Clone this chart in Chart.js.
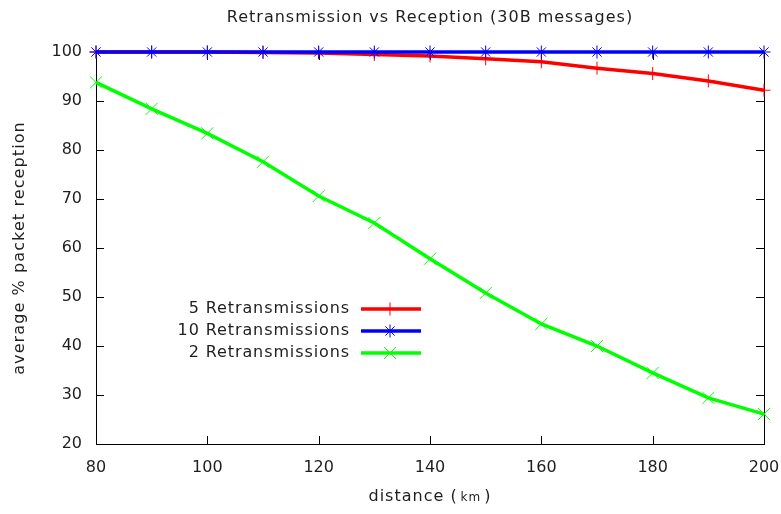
<!DOCTYPE html>
<html><head><meta charset="utf-8">
<script src="https://cdn.jsdelivr.net/npm/chart.js@4/dist/chart.umd.min.js"></script>
<style>html,body{margin:0;padding:0;background:#fff}#wrap{width:781px;height:514px}</style>
</head><body><div id="wrap"><canvas id="c" width="781" height="514"></canvas></div>
<script>
const distances = [80, 90, 100, 110, 120, 130, 140, 150, 160, 170, 180, 190, 200];
const retrans5 = [100, 100, 100, 99.9, 99.8, 99.5, 99.2, 98.6, 98.0, 96.7, 95.6, 94.1, 92.2];
const retrans10 = [100, 100, 100, 100, 100, 100, 100, 100, 100, 100, 100, 100, 100];
const retrans2 = [93.8, 88.4, 83.4, 77.6, 70.6, 65.1, 57.8, 50.8, 44.5, 40.0, 34.5, 29.4, 26.1];
const xTicks = [80, 100, 120, 140, 160, 180, 200];
const yTicks = [20, 30, 40, 50, 60, 70, 80, 90, 100];
const titleText = 'Retransmission vs Reception (30B messages)';
const yTitle = 'average % packet reception';
const xTitleMain = 'distance (';
const xTitleUnit = 'km';
const xTitleEnd = ')';

const FONT = '"DejaVu Sans", sans-serif';
const TXT = '#1e1e1e';

const pts = a => a.map((v, i) => ({x: distances[i], y: v}));

const frame = {
  id: 'frame',
  beforeDatasetsDraw(chart) {
    const ctx = chart.ctx, a = chart.chartArea;
    const xs = chart.scales.x, ys = chart.scales.y;
    ctx.save();
    ctx.strokeStyle = '#000'; ctx.lineWidth = 1;
    ctx.strokeRect(Math.round(a.left)+0.5, Math.round(a.top)+0.5, Math.round(a.right-a.left), Math.round(a.bottom-a.top));
    const tl = 8;
    ctx.beginPath();
    xTicks.forEach(v => {
      const px = Math.round(xs.getPixelForValue(v)) + 0.5;
      ctx.moveTo(px, a.bottom); ctx.lineTo(px, a.bottom - tl);
      ctx.moveTo(px, a.top); ctx.lineTo(px, a.top + tl);
    });
    yTicks.forEach(v => {
      const py = Math.round(ys.getPixelForValue(v)) + 0.5;
      ctx.moveTo(a.left, py); ctx.lineTo(a.left + tl, py);
      ctx.moveTo(a.right, py); ctx.lineTo(a.right - tl, py);
    });
    ctx.stroke();
    ctx.restore();
  },
  afterDatasetsDraw(chart) {
    const ctx = chart.ctx, a = chart.chartArea;
    ctx.save();
    ctx.fillStyle = TXT;
    ctx.textBaseline = 'middle';
    const cx = (a.left + a.right) / 2;
    // title
    ctx.font = '16px ' + FONT;
    ctx.letterSpacing = '1px';
    ctx.textAlign = 'center';
    ctx.fillText(titleText, cx, 18);
    // y title
    ctx.save();
    ctx.translate(20, (a.top + a.bottom) / 2);
    ctx.rotate(-Math.PI / 2);
    ctx.letterSpacing = '1.1px';
    ctx.fillText(yTitle, 0, 0);
    ctx.restore();
    // x title
    ctx.letterSpacing = '1px';
    ctx.font = '16px ' + FONT;
    const w1 = ctx.measureText(xTitleMain).width;
    const w3 = ctx.measureText(xTitleEnd).width;
    ctx.font = '12px ' + FONT;
    const w2 = ctx.measureText(xTitleUnit).width;
    const gap = 3;
    let x0 = cx - (w1 + w2 + w3 + 2 * gap) / 2;
    ctx.textAlign = 'left';
    ctx.font = '16px ' + FONT;
    ctx.fillText(xTitleMain, x0, 497);
    ctx.font = '12px ' + FONT;
    ctx.fillText(xTitleUnit, x0 + w1 + gap, 498);
    ctx.font = '16px ' + FONT;
    ctx.fillText(xTitleEnd, x0 + w1 + w2 + 2 * gap, 497);
    // legend
    const rows = [309, 331, 353];
    ctx.letterSpacing = '0.9px';
    ctx.font = '16px ' + FONT;
    chart.data.datasets.forEach((ds, i) => {
      const y = rows[i];
      ctx.fillStyle = TXT; ctx.textAlign = 'right';
      ctx.fillText(ds.label, 350, y);
      ctx.strokeStyle = ds.borderColor; ctx.lineWidth = ds.borderWidth;
      ctx.beginPath(); ctx.moveTo(361, y); ctx.lineTo(421, y); ctx.stroke();
      ctx.strokeStyle = ds.pointBorderColor; ctx.fillStyle = ds.pointBorderColor; ctx.lineWidth = 1;
      Chart.helpers.drawPoint(ctx, {pointStyle: ds.pointStyle, radius: ds.pointRadius, borderWidth: 1, rotation: 0}, 390, y);
    });
    ctx.letterSpacing = '0px';
    ctx.restore();
  }
};

new Chart(document.getElementById('c'), {
  type: 'line',
  data: {
    datasets: [
      {label: '5 Retransmissions', data: pts(retrans5), borderColor: '#ff0000', backgroundColor: '#ff0000', pointBorderColor: '#ff0000', pointStyle: 'cross', pointRadius: 6.5, pointBorderWidth: 1, borderWidth: 3.5, order: 3, clip: false, tension: 0},
      {label: '10 Retransmissions', data: pts(retrans10), borderColor: '#0000ff', backgroundColor: '#0000ff', pointBorderColor: '#0000ff', pointStyle: 'star', pointRadius: 6.5, pointBorderWidth: 1, borderWidth: 3.5, order: 2, clip: false, tension: 0},
      {label: '2 Retransmissions', data: pts(retrans2), borderColor: '#00ff00', backgroundColor: '#00ff00', pointBorderColor: '#00ff00', pointStyle: 'crossRot', pointRadius: 8.5, pointBorderWidth: 1, borderWidth: 3.5, order: 1, clip: false, tension: 0}
    ]
  },
  options: {
    responsive: false,
    animation: false,
    layout: {padding: {left: 0, top: 52, right: 17, bottom: 0}},
    plugins: {legend: {display: false}, title: {display: false}, tooltip: {enabled: false}},
    scales: {
      x: {
        type: 'linear', min: 80, max: 200,
        afterBuildTicks: s => { s.ticks = xTicks.map(v => ({value: v})); },
        afterFit: s => { s.height = 70; s.paddingLeft = 0; s.paddingRight = 0; },
        grid: {display: false, drawTicks: false},
        border: {display: false},
        ticks: {padding: 14, color: TXT, font: {family: FONT, size: 16}, maxRotation: 0}
      },
      y: {
        type: 'linear', min: 20, max: 100,
        afterBuildTicks: s => { s.ticks = yTicks.map(v => ({value: v})); },
        afterFit: s => { s.width = 96; s.paddingTop = 0; s.paddingBottom = 0; },
        grid: {display: false, drawTicks: false},
        border: {display: false},
        ticks: {padding: 14, color: TXT, font: {family: FONT, size: 16}}
      }
    }
  },
  plugins: [frame]
});
</script></body></html>
